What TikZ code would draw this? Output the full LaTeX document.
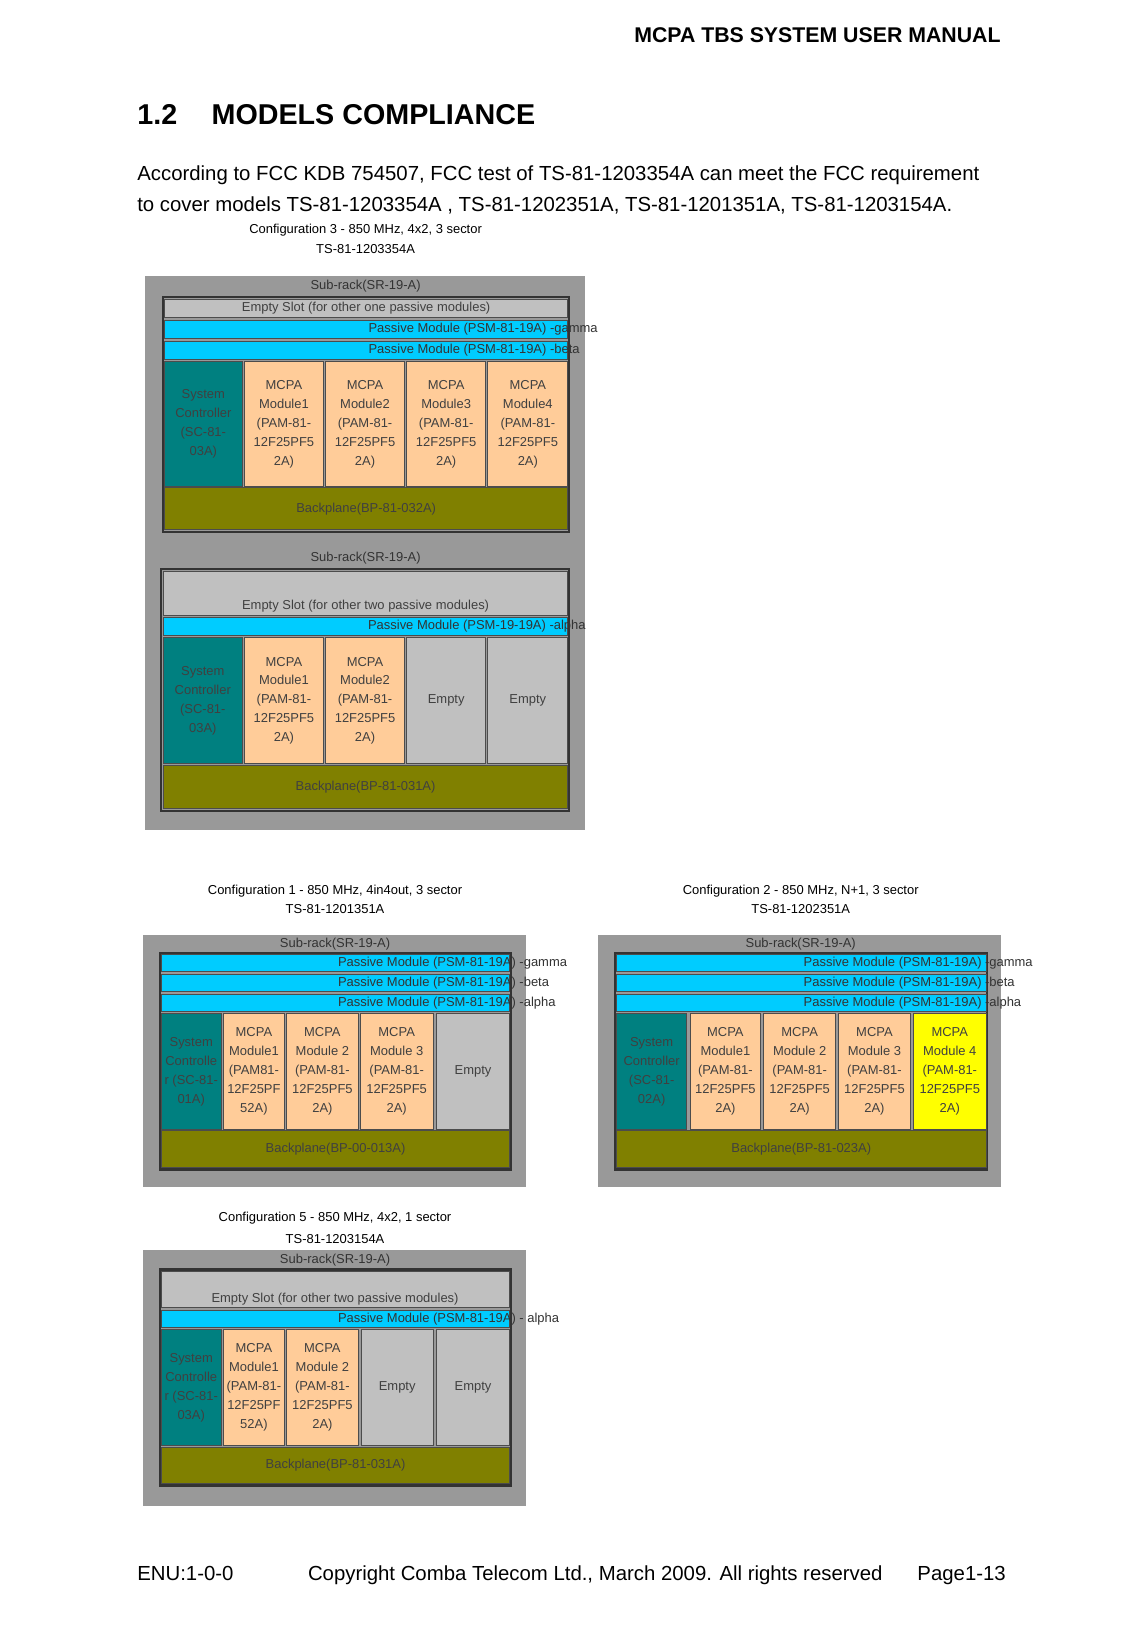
\documentclass[tikz,border=0pt]{standalone}
\usepackage{fontspec}
\setmainfont{Liberation Sans}
\usetikzlibrary{calc}
\definecolor{rackgray}{HTML}{999999}
\definecolor{slotgray}{HTML}{C0C0C0}
\definecolor{passive}{HTML}{00CCFF}
\definecolor{sysc}{HTML}{008080}
\definecolor{mcpa}{HTML}{FFCC99}
\definecolor{back}{HTML}{808000}
\definecolor{yel}{HTML}{FFFF00}
\tikzset{
 cellbox/.style={draw=black!70,line width=0.5pt},
 lbl/.style={inner sep=0pt,align=center,font=\fontsize{7}{10.2}\selectfont,text=black!75},
 lblleft/.style={inner sep=0pt,anchor=west,font=\fontsize{7}{9}\selectfont,text=black!80},
 captxt/.style={inner sep=0pt,font=\fontsize{7}{9}\selectfont},
 body/.style={inner sep=0pt,anchor=base west,font=\fontsize{11}{13}\selectfont},
}
\newcommand\bx[7]{\draw[cellbox,fill=#6] (#2,#3) rectangle (#4,#5);
 \node[lbl] (#1) at ($(#2,#3)!0.5!(#4,#5)$) {#7};}
\newcommand\psmbox[6]{\draw[cellbox,fill=passive] (#2,#3) rectangle (#4,#5);
 \node[lblleft] (#1) at ($(#2,#3)!0.5!(#4,#5)+(2,0)$) {#6};}
\newcommand\mtxt[1]{MCPA\\#1\\(PAM-81-\\12F25PF5\\2A)}
\begin{document}
\begin{tikzpicture}[x=0.02cm,y=-0.02cm]
\useasboundingbox[fill=white] (0,0) rectangle (1080,1568);
\node[inner sep=0pt,anchor=base east,font=\bfseries\fontsize{11.5}{13}\selectfont] (hdr) at (950,40) {MCPA TBS SYSTEM USER MANUAL};
\node[inner sep=0pt,anchor=base west,font=\bfseries\fontsize{15.5}{18}\selectfont] (ttl) at (130,118) {1.2\hspace{1.2em}MODELS COMPLIANCE};
\node[body] (p1) at (130,171) {According to FCC KDB 754507, FCC test of TS-81-1203354A can meet the FCC requirement};
\node[body] (p2) at (130,201) {to cover models TS-81-1203354A , TS-81-1202351A, TS-81-1201351A, TS-81-1203154A.};
\node[body] (f1) at (130,1500) {ENU:1-0-0};
\node[inner sep=0pt,anchor=base,font=\fontsize{11}{13}\selectfont] (f2) at (565,1500) {Copyright Comba Telecom Ltd., March 2009. All rights reserved};
\node[inner sep=0pt,anchor=base east,font=\fontsize{11}{13}\selectfont] (f3) at (955,1500) {Page1-13};

% ===== Configuration 3 =====
\node[captxt] (c3a) at (347,218) {Configuration 3 - 850 MHz, 4x2, 3 sector};
\node[captxt] (c3b) at (347,236) {TS-81-1203354A};
\fill[rackgray] (138,262) rectangle (555,788);
\node[captxt,text=black!80] (s3a) at (347,272) {Sub-rack(SR-19-A)};
\draw[black!80,line width=1.2pt] (155,282) rectangle (540,505);
\bx{e3a}{156}{284}{539}{301}{slotgray}{Empty Slot (for other one passive modules)}
\psmbox{g3a}{156}{304}{539}{321}{Passive Module (PSM-81-19A) -gamma}
\psmbox{b3a}{156}{324}{539}{341}{Passive Module (PSM-81-19A) -beta}
\bx{sc3a}{156}{343}{230}{462}{sysc}{System\\Controller\\(SC-81-\\03A)}
\bx{m31}{232}{343}{307}{462}{mcpa}{\mtxt{Module1}}
\bx{m32}{309}{343}{384}{462}{mcpa}{\mtxt{Module2}}
\bx{m33}{386}{343}{461}{462}{mcpa}{\mtxt{Module3}}
\bx{m34}{463}{343}{539}{462}{mcpa}{\mtxt{Module4}}
\bx{bp3a}{156}{463}{539}{503}{back}{Backplane(BP-81-032A)}

\node[captxt,text=black!80] (s3b) at (347,530) {Sub-rack(SR-19-A)};
\draw[black!80,line width=1.2pt] (153,540) rectangle (540,770);
\draw[cellbox,fill=slotgray] (155,542) rectangle (539,584);
\node[lbl] (e3b) at (347,575) {Empty Slot (for other two passive modules)};
\psmbox{a3b}{155}{586}{539}{603}{Passive Module (PSM-19-19A) -alpha}
\bx{sc3b}{155}{605}{230}{725}{sysc}{System\\Controller\\(SC-81-\\03A)}
\bx{m3b1}{232}{605}{307}{725}{mcpa}{\mtxt{Module1}}
\bx{m3b2}{309}{605}{384}{725}{mcpa}{\mtxt{Module2}}
\bx{m3b3}{386}{605}{461}{725}{slotgray}{Empty}
\bx{m3b4}{463}{605}{539}{725}{slotgray}{Empty}
\bx{bp3b}{155}{727}{539}{767}{back}{Backplane(BP-81-031A)}

% ===== Configuration 1 =====
\node[captxt] (c1a) at (318,846) {Configuration 1 - 850 MHz, 4in4out, 3 sector};
\node[captxt] (c1b) at (318,863) {TS-81-1201351A};
\fill[rackgray] (136,887) rectangle (499,1127);
\node[captxt,text=black!80] (s1) at (318,896) {Sub-rack(SR-19-A)};
\draw[black!80,line width=1.2pt] (152,905) rectangle (485,1110);
\psmbox{g1}{153}{906}{484}{922}{Passive Module (PSM-81-19A) -gamma}
\psmbox{b1}{153}{925}{484}{941}{Passive Module (PSM-81-19A) -beta}
\psmbox{a1}{153}{944}{484}{960}{Passive Module (PSM-81-19A) -alpha}
\bx{sc1}{153}{962}{210}{1072}{sysc}{System\\Controlle\\r (SC-81-\\01A)}
\bx{m11}{212}{962}{270}{1072}{mcpa}{MCPA\\Module1\\(PAM81-\\12F25PF\\52A)}
\bx{m12}{272}{962}{340}{1072}{mcpa}{\mtxt{Module 2}}
\bx{m13}{342}{962}{411}{1072}{mcpa}{\mtxt{Module 3}}
\bx{m14}{414}{962}{484}{1072}{slotgray}{Empty}
\bx{bp1}{153}{1073}{484}{1108}{back}{Backplane(BP-00-013A)}

% ===== Configuration 2 =====
\node[captxt] (c2a) at (760,846) {Configuration 2 - 850 MHz, N+1, 3 sector};
\node[captxt] (c2b) at (760,863) {TS-81-1202351A};
\fill[rackgray] (568,887) rectangle (950,1127);
\node[captxt,text=black!80] (s2) at (760,896) {Sub-rack(SR-19-A)};
\draw[black!80,line width=1.2pt] (584,905) rectangle (937,1110);
\psmbox{g2}{585}{906}{936}{922}{Passive Module (PSM-81-19A) -gamma}
\psmbox{b2}{585}{925}{936}{941}{Passive Module (PSM-81-19A) -beta}
\psmbox{a2}{585}{944}{936}{960}{Passive Module (PSM-81-19A) -alpha}
\bx{sc2}{585}{962}{652}{1072}{sysc}{System\\Controller\\(SC-81-\\02A)}
\bx{m21}{655}{962}{722}{1072}{mcpa}{\mtxt{Module1}}
\bx{m22}{725}{962}{793}{1072}{mcpa}{\mtxt{Module 2}}
\bx{m23}{796}{962}{864}{1072}{mcpa}{\mtxt{Module 3}}
\bx{m24}{867}{962}{936}{1072}{yel}{\mtxt{Module 4}}
\bx{bp2}{585}{1073}{936}{1108}{back}{Backplane(BP-81-023A)}

% ===== Configuration 5 =====
\node[captxt] (c5a) at (318,1156) {Configuration 5 - 850 MHz, 4x2, 1 sector};
\node[captxt] (c5b) at (318,1176) {TS-81-1203154A};
\fill[rackgray] (136,1186) rectangle (499,1429);
\node[captxt,text=black!80] (s5) at (318,1196) {Sub-rack(SR-19-A)};
\draw[black!80,line width=1.2pt] (152,1205) rectangle (485,1410);
\draw[cellbox,fill=slotgray] (153,1207) rectangle (484,1241);
\node[lbl] (e5) at (318,1233) {Empty Slot (for other two passive modules)};
\psmbox{a5}{153}{1244}{484}{1260}{Passive Module (PSM-81-19A) - alpha}
\bx{sc5}{153}{1262}{210}{1372}{sysc}{System\\Controlle\\r (SC-81-\\03A)}
\bx{m51}{212}{1262}{270}{1372}{mcpa}{MCPA\\Module1\\(PAM-81-\\12F25PF\\52A)}
\bx{m52}{272}{1262}{340}{1372}{mcpa}{\mtxt{Module 2}}
\bx{m53}{343}{1262}{411}{1372}{slotgray}{Empty}
\bx{m54}{414}{1262}{484}{1372}{slotgray}{Empty}
\bx{bp5}{153}{1374}{484}{1408}{back}{Backplane(BP-81-031A)}
\end{tikzpicture}
\end{document}
